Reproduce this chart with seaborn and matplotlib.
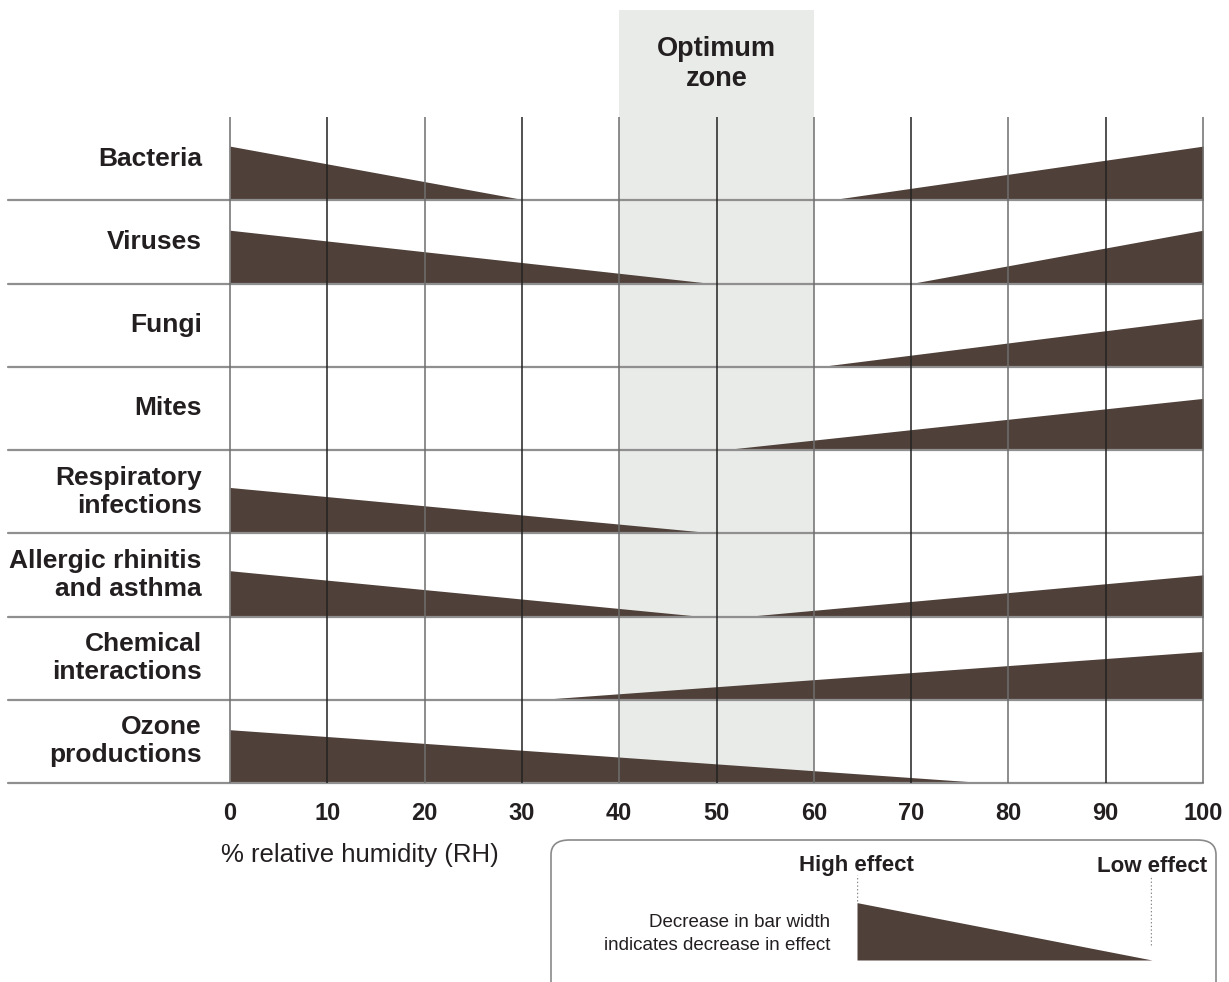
import numpy as np
import seaborn as sns
import matplotlib.pyplot as plt
from matplotlib.patches import FancyBboxPatch

sns.set_theme(style='white')
plt.rcParams['font.family'] = ['Liberation Sans', 'DejaVu Sans']

# rows, top to bottom
labels = ['Bacteria', 'Viruses', 'Fungi', 'Mites', 'Respiratory\ninfections',
          'Allergic rhinitis\nand asthma', 'Chemical\ninteractions', 'Ozone\nproductions']
# wedge that shrinks from RH 0 up to low_end
low_end = [30.5, 49.5, None, None, 50, 48.5, None, 78]
low_height = [0.65, 0.64, 0, 0, 0.55, 0.55, 0, 0.64]
# wedge that grows from high_start up to RH 100
high_start = [61.5, 70, 60.5, 50.5, None, 53, 31.5, None]
high_height = [0.65, 0.64, 0.58, 0.62, 0, 0.50, 0.58, 0]

ticks = [0, 10, 20, 30, 40, 50, 60, 70, 80, 90, 100]
optimum = (40, 60)

wedge_col = '#4f4039'
text_col = '#231f20'
n = len(labels)

fig = plt.figure(figsize=(12.29, 9.82), dpi=100)
ax = fig.add_axes([230 / 1229, 1 - 783 / 982, 973 / 1229, 773 / 982])
top_extra = (117 - 10) / 83.25
ax.set_xlim(0, 100)
ax.set_ylim(0, n + top_extra)
ax.axis('off')

# optimum zone band
ax.axvspan(optimum[0], optimum[1], color='#e9ebe8', zorder=0, lw=0)
ax.text(50, n + (117 - 64) / 83.25, 'Optimum\nzone', ha='center', va='center',
        fontsize=19.5, fontweight='bold', color=text_col, linespacing=1.25)

for i, lab in enumerate(labels):
    base = n - 1 - i
    if low_end[i] is not None:
        ax.fill_between([0, low_end[i]], base, [base + low_height[i], base],
                        color=wedge_col, lw=0, zorder=2)
    if high_start[i] is not None:
        ax.fill_between([high_start[i], 100], base, [base, base + high_height[i]],
                        color=wedge_col, lw=0, zorder=2)
    ax.plot([-22.8, 100], [base, base], color='#8f8f8f', lw=1.6, zorder=3, clip_on=False)
    ax.text(-2.9, base + 0.5, lab, ha='right', va='center', fontsize=19,
            fontweight='bold', color=text_col, linespacing=1.2)

for k, t in enumerate(ticks):
    ax.vlines(t, 0, n, color='#222222' if k % 2 else '#6e6e6e', lw=1.1, zorder=3, clip_on=False)
    ax.text(t, -30 / 83.25, str(t), ha='center', va='center', fontsize=17,
            fontweight='bold', color=text_col)

fig.text(221 / 1229, 1 - 855 / 982, '% relative humidity (RH)', ha='left', va='center',
         fontsize=18.5, color=text_col)

# legend box
box = FancyBboxPatch((551 / 1229, 1 - 1000 / 982), 665 / 1229, 160 / 982,
                     boxstyle='round,pad=0,rounding_size=0.015', transform=fig.transFigure,
                     fc='none', ec='#8a8a8a', lw=1.2, clip_on=False)
fig.add_artist(box)
fig.text(856 / 1229, 1 - 866 / 982, 'High effect', ha='center', va='center',
         fontsize=16, fontweight='bold', color=text_col)
fig.text(1207 / 1229, 1 - 866 / 982, 'Low effect', ha='right', va='center',
         fontsize=16, fontweight='bold', color=text_col)
fig.text(830 / 1229, 1 - 934 / 982, 'Decrease in bar width\nindicates decrease in effect',
         ha='right', va='center', fontsize=13.5, color=text_col, linespacing=1.45)
lax = fig.add_axes([857 / 1229, 1 - 960 / 982, 295 / 1229, 85 / 982])
lax.set_xlim(0, 1)
lax.set_ylim(0, 1)
lax.axis('off')
lax.fill_between([0, 1], 0, [0.675, 0], color=wedge_col, lw=0)
lax.plot([0, 0], [0.7, 1.0], ls=':', color='#888888', lw=1)
lax.plot([0.995, 0.995], [0.18, 1.0], ls=':', color='#888888', lw=1)

fig.savefig('out.png', dpi=100)
